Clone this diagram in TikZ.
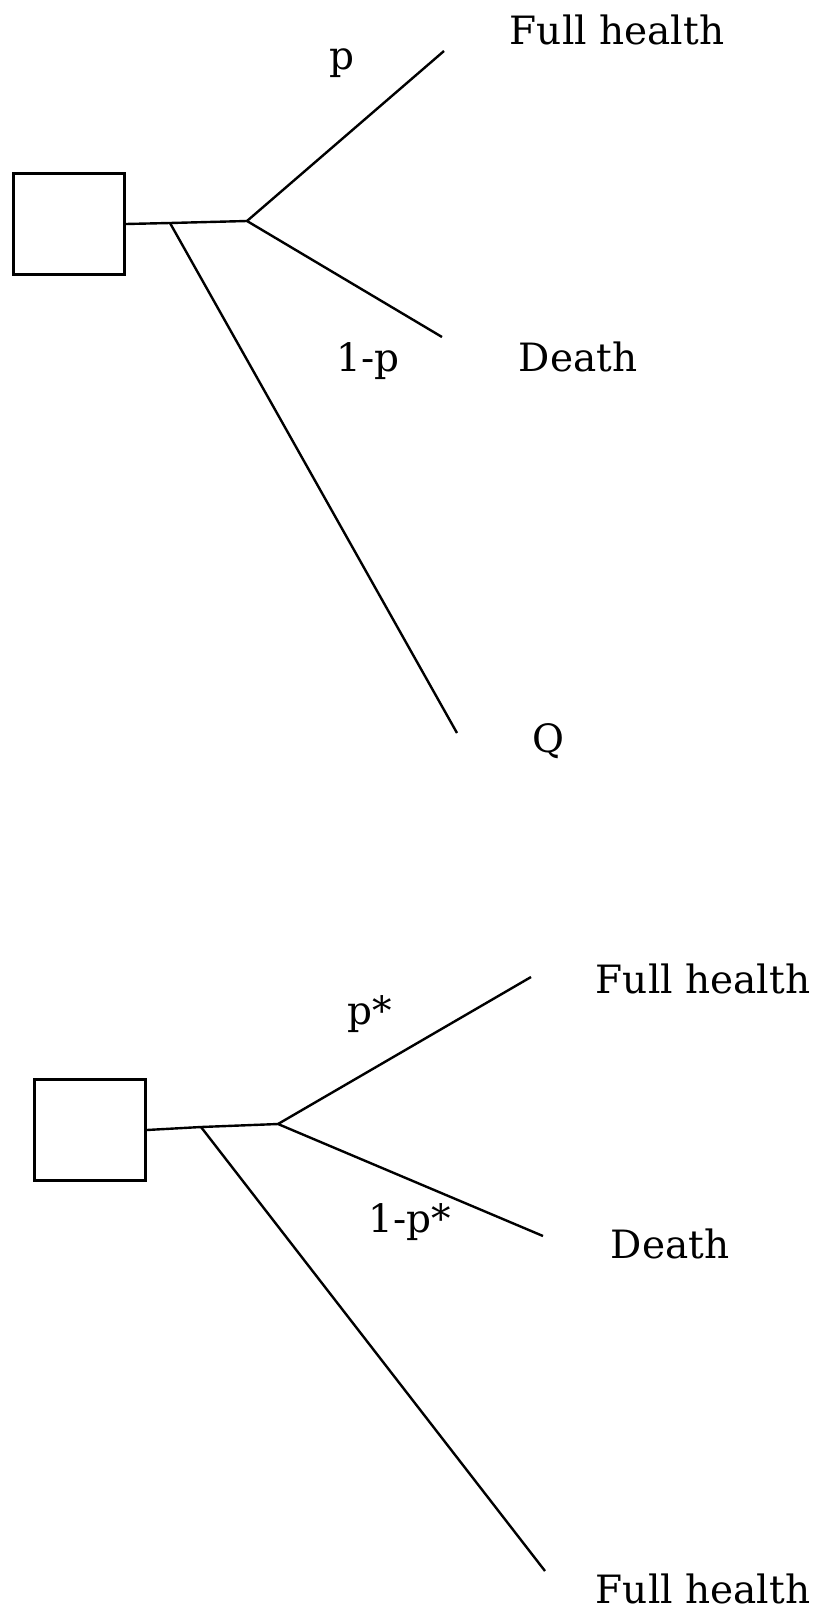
\documentclass[tikz,border=0pt]{standalone}
\usepackage{fontspec}
\setmainfont{DejaVu Serif}
\begin{document}
\begin{tikzpicture}[x=1pt,y=-1pt,
  decision/.style={draw,line width=2.6pt,minimum width=111pt,minimum height=101pt,inner sep=0pt},
  branch/.style={line width=2.4pt},
  lbl/.style={inner sep=0pt,anchor=base,font=\fontsize{39}{46}\selectfont}]
\useasboundingbox (0,0) rectangle (817,1619);

% ---- upper tree: gamble against a sure health state Q ----
\node[decision] (box1) at (69,224) {};
\coordinate (s1) at (170,223);
\coordinate (j1) at (247,221);
\coordinate (e1a) at (444,51);
\coordinate (e1b) at (442,337);
\coordinate (e1c) at (457,733);
\draw[branch] (box1.east) -- (s1) -- (j1);
\draw[branch] (j1) -- (e1a);
\draw[branch] (j1) -- (e1b);
\draw[branch] (s1) -- (e1c);
\node[lbl] (p1) at (342,70) {p};
\node[lbl] (q1) at (368,371) {1-p};
\node[lbl] (fh1) at (617,45) {Full health};
\node[lbl] (d1) at (578,371) {Death};
\node[lbl] (qs) at (548,752) {Q};

% ---- lower tree: gamble against full health ----
\node[decision] (box2) at (90,1130) {};
\coordinate (s2) at (201,1127);
\coordinate (j2) at (278,1124);
\coordinate (e2a) at (531,977);
\coordinate (e2b) at (543,1236);
\coordinate (e2c) at (545,1571);
\draw[branch] (box2.east) -- (s2) -- (j2);
\draw[branch] (j2) -- (e2a);
\draw[branch] (j2) -- (e2b);
\draw[branch] (s2) -- (e2c);
\node[lbl,anchor=base west] (p2) at (347,1024) {p*};
\node[lbl,anchor=base west] (q2) at (368,1232) {1-p*};
\node[lbl] (fh2) at (703,993) {Full health};
\node[lbl] (d2) at (670,1258) {Death};
\node[lbl] (fh3) at (703,1603) {Full health};
\end{tikzpicture}
\end{document}
